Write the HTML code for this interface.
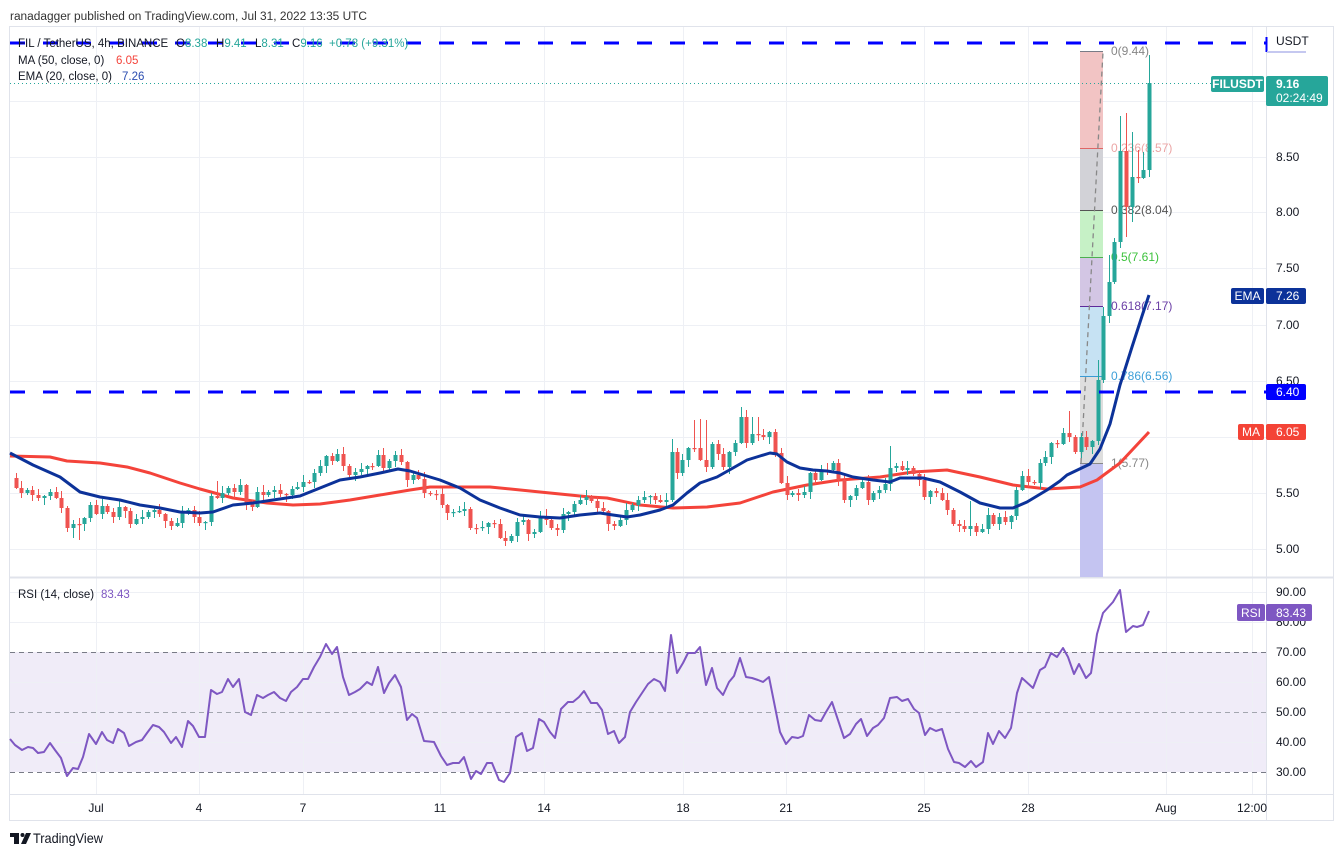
<!DOCTYPE html>
<html><head><meta charset="utf-8"><style>
html,body{margin:0;padding:0;background:#fff;overflow:hidden}
svg{display:block}
</style></head><body>
<svg width="1344" height="857" viewBox="0 0 1344 857" xmlns="http://www.w3.org/2000/svg" font-family="'Liberation Sans', sans-serif">
<rect width="1344" height="857" fill="#fff"/>
<text x="10" y="20" font-size="11.5" fill="#333" textLength="357" lengthAdjust="spacingAndGlyphs">ranadagger published on TradingView.com, Jul 31, 2022 13:35 UTC</text>

<!-- RSI band -->
<rect x="10" y="652" width="1256" height="120" fill="#f0ecf8"/>

<!-- grid -->
<g stroke="#eef0f5" stroke-width="1">
<line x1="10" y1="101.5" x2="1266" y2="101.5"/><line x1="10" y1="157.5" x2="1266" y2="157.5"/>
<line x1="10" y1="212.5" x2="1266" y2="212.5"/><line x1="10" y1="268.5" x2="1266" y2="268.5"/>
<line x1="10" y1="325.5" x2="1266" y2="325.5"/><line x1="10" y1="381.5" x2="1266" y2="381.5"/>
<line x1="10" y1="437.5" x2="1266" y2="437.5"/><line x1="10" y1="493.5" x2="1266" y2="493.5"/>
<line x1="10" y1="549.5" x2="1266" y2="549.5"/>
<line x1="10" y1="592.5" x2="1266" y2="592.5"/><line x1="10" y1="622.5" x2="1266" y2="622.5"/>
<line x1="10" y1="682.5" x2="1266" y2="682.5"/><line x1="10" y1="742.5" x2="1266" y2="742.5"/>
<line x1="96.5" y1="27" x2="96.5" y2="794"/><line x1="199.5" y1="27" x2="199.5" y2="794"/>
<line x1="303.5" y1="27" x2="303.5" y2="794"/><line x1="440.5" y1="27" x2="440.5" y2="794"/>
<line x1="544.5" y1="27" x2="544.5" y2="794"/><line x1="683.5" y1="27" x2="683.5" y2="794"/>
<line x1="786.5" y1="27" x2="786.5" y2="794"/><line x1="924.5" y1="27" x2="924.5" y2="794"/>
<line x1="1028.5" y1="27" x2="1028.5" y2="794"/><line x1="1166.5" y1="27" x2="1166.5" y2="794"/>
<line x1="1252.5" y1="27" x2="1252.5" y2="794"/>
</g>

<!-- RSI dashed levels -->
<g stroke-width="1" stroke-dasharray="5 4">
<line x1="10" y1="652.5" x2="1266" y2="652.5" stroke="#787b86"/>
<line x1="10" y1="712.5" x2="1266" y2="712.5" stroke="#a3a6af"/>
<line x1="10" y1="772.5" x2="1266" y2="772.5" stroke="#787b86"/>
</g>

<!-- frame -->
<rect x="9.5" y="26.5" width="1324" height="794" fill="none" stroke="#e0e3eb"/>
<line x1="1266.5" y1="27" x2="1266.5" y2="821" stroke="#e0e3eb"/>
<line x1="10" y1="577.5" x2="1334" y2="577.5" stroke="#e0e3eb" stroke-width="2"/>
<line x1="10" y1="794.5" x2="1334" y2="794.5" stroke="#e0e3eb"/>

<!-- Fib box -->
<rect x="1080" y="51" width="23" height="97" fill="#f2c4c4"/>
<rect x="1080" y="148" width="23" height="62" fill="#d2d2d7"/>
<rect x="1080" y="210" width="23" height="47" fill="#c6f1c6"/>
<rect x="1080" y="257" width="23" height="49" fill="#d3c6e4"/>
<rect x="1080" y="306" width="23" height="70" fill="#c6e2f3"/>
<rect x="1080" y="376" width="23" height="87" fill="#dedede"/>
<rect x="1080" y="463" width="23" height="114" fill="#c4c4f1"/>
<g stroke-width="1">
<line x1="1080" y1="51.5" x2="1103" y2="51.5" stroke="#787b86"/>
<line x1="1080" y1="148.5" x2="1103" y2="148.5" stroke="#e06666"/>
<line x1="1080" y1="210.5" x2="1103" y2="210.5" stroke="#555"/>
<line x1="1080" y1="257.5" x2="1103" y2="257.5" stroke="#4caf50"/>
<line x1="1080" y1="306.5" x2="1103" y2="306.5" stroke="#5e2a9a"/>
<line x1="1080" y1="376.5" x2="1103" y2="376.5" stroke="#3a9bd5"/>
<line x1="1080" y1="463.5" x2="1103" y2="463.5" stroke="#888"/>
</g>
<line x1="1081" y1="463" x2="1103" y2="52" stroke="#888" stroke-width="1.3" stroke-dasharray="5 4"/>
<g font-size="12">
<text x="1111" y="55" fill="#868686">0(9.44)</text>
<text x="1111" y="152" fill="#eba5a5">0.236(8.57)</text>
<text x="1111" y="214" fill="#555">0.382(8.04)</text>
<text x="1111" y="261" fill="#3cc23c">0.5(7.61)</text>
<text x="1111" y="310" fill="#6b3fa6">0.618(7.17)</text>
<text x="1111" y="380" fill="#3d9fd8">0.786(6.56)</text>
<text x="1111" y="467" fill="#888">1(5.77)</text>
</g>

<!-- current price dotted -->
<line x1="10" y1="83.5" x2="1211" y2="83.5" stroke="#26a69a" stroke-width="1" stroke-dasharray="1 3"/>

<!-- MA 50 -->
<polyline fill="none" stroke="#f4433a" stroke-width="3" stroke-linejoin="round" points="10,456 50,457 67,461 100,463 127,467 150,473 180,483 200,489 233,498 267,503 293,505 320,504 350,500 380,495 410,490 430,487 450,487 490,487 540,492 590,497 607,498 640,505 673,508 707,507 740,503 773,492 807,485 840,480 880,477 913,472 947,470 980,477 1013,485 1047,489 1080,487 1097,480 1120,463 1149,432"/>

<!-- candles -->
<g id="candles"></g>

<!-- EMA 20 -->
<polyline fill="none" stroke="#0c3299" stroke-width="3" stroke-linejoin="round" points="10,453 33,465 60,477 80,492 100,497 120,500 140,505 160,508 180,512 200,513 213,512 233,505 253,503 273,500 300,496 320,488 340,480 360,477 380,473 398,469 410,471 430,477 440,480 450,484 460,488 480,500 500,508 520,515 540,517 560,518 580,515 600,513 613,515 627,517 640,515 660,510 673,505 687,493 700,483 717,477 733,468 747,460 760,456 770,453 777,454 787,462 800,468 813,470 827,471 840,473 853,477 873,480 890,482 900,478 923,478 940,482 960,492 980,503 1000,508 1013,508 1027,502 1047,490 1060,481 1067,475 1090,464 1100,449 1110,424 1120,385 1132,347 1143,313 1149,295"/>

<!-- blue dashed levels -->
<g stroke="#0000ff" stroke-width="3" stroke-dasharray="15 18">
<line x1="10" y1="43" x2="1266" y2="43"/>
<line x1="10" y1="392" x2="1266" y2="392"/>
</g>
<line x1="1266.5" y1="37" x2="1266.5" y2="52" stroke="#0000ff" stroke-width="2"/>
<rect x="1267" y="51" width="39" height="2" fill="#c5c8f0"/>

<!-- RSI line -->
<polyline fill="none" stroke="#7e57c2" stroke-width="2" stroke-linejoin="round" points="10,739 15,745 22,750 28,747 33,748 38,753 44,752 50,743 55,750 61,758 67,776 73,768 78,769 83,757 89,734 96,744 102,732 107,740 113,743 118,729 124,733 129,746 136,742 142,740 147,733 153,725 159,727 164,732 171,743 176,737 182,747 188,721 193,726 199,737 205,737 211,690 217,694 222,692 228,679 233,687 239,679 245,712 251,715 257,695 263,698 268,695 274,692 280,698 286,701 291,692 297,687 303,679 308,679 314,667 320,657 326,644 332,654 337,647 343,677 349,695 355,692 360,689 367,682 372,685 378,667 384,693 389,683 395,675 401,687 407,720 412,714 417,718 424,741 434,742 441,756 447,765 453,763 459,763 464,757 471,779 476,771 481,774 487,763 492,763 499,780 504,782 510,773 516,737 522,733 527,751 533,748 539,719 544,722 550,732 555,738 561,709 568,702 573,702 579,697 584,691 591,703 597,703 602,710 608,734 614,731 619,743 625,737 630,712 636,702 642,693 648,684 654,679 660,682 665,691 671,635 677,673 683,663 688,653 695,653 700,647 706,685 712,668 717,688 723,695 729,682 734,676 740,658 746,677 752,678 758,680 763,682 769,677 780,732 786,744 792,737 798,738 803,736 809,715 815,720 821,721 826,712 832,702 844,738 850,734 856,724 861,719 867,736 873,728 878,725 884,718 890,698 897,697 902,701 908,699 914,709 919,713 925,735 930,728 936,731 942,729 948,749 954,762 959,763 965,767 971,761 976,767 983,762 988,733 993,744 999,731 1005,738 1011,728 1017,693 1022,678 1033,688 1040,670 1045,667 1051,653 1057,657 1063,648 1068,657 1074,674 1079,664 1086,678 1091,673 1097,634 1103,613 1113,602 1120,590 1126,632 1133,626 1137,627 1143,625 1149,611"/>

<!-- legends -->
<text y="47" font-size="11.5" fill="#131722"><tspan x="18">FIL / TetherUS, 4h, BINANCE</tspan><tspan x="176">O</tspan><tspan fill="#26a69a">8.38</tspan><tspan x="216">H</tspan><tspan fill="#26a69a">9.41</tspan><tspan x="255">L</tspan><tspan fill="#26a69a">8.31</tspan><tspan x="292">C</tspan><tspan fill="#26a69a">9.16</tspan><tspan x="329" fill="#26a69a">+0.78 (+9.31%)</tspan></text>
<text y="64" font-size="11.5" fill="#131722"><tspan x="18">MA (50, close, 0)</tspan><tspan x="116" fill="#f4433a">6.05</tspan></text>
<text y="80" font-size="11.5" fill="#131722"><tspan x="18">EMA (20, close, 0)</tspan><tspan x="122" fill="#2a4cb0">7.26</tspan></text>
<text y="598" font-size="11.5" fill="#131722"><tspan x="18">RSI (14, close)</tspan><tspan x="101" fill="#7e57c2">83.43</tspan></text>

<!-- price axis labels -->
<g font-size="12" fill="#131722">
<text x="1276" y="45">USDT</text>
<text x="1276" y="161">8.50</text>
<text x="1276" y="216">8.00</text>
<text x="1276" y="272">7.50</text>
<text x="1276" y="329">7.00</text>
<text x="1276" y="385">6.50</text>
<text x="1276" y="497">5.50</text>
<text x="1276" y="553">5.00</text>
<text x="1276" y="596">90.00</text>
<text x="1276" y="626">80.00</text>
<text x="1276" y="656">70.00</text>
<text x="1276" y="686">60.00</text>
<text x="1276" y="716">50.00</text>
<text x="1276" y="746">40.00</text>
<text x="1276" y="776">30.00</text>
</g>

<!-- axis tags -->
<rect x="1211" y="76" width="53" height="16" rx="2" fill="#26a69a"/>
<text x="1237.5" y="88" font-size="12" font-weight="bold" fill="#fff" text-anchor="middle">FILUSDT</text>
<rect x="1266" y="76" width="62" height="30" rx="2" fill="#26a69a"/>
<text x="1276" y="88" font-size="12" font-weight="bold" fill="#fff">9.16</text>
<text x="1276" y="102" font-size="12" fill="#fff">02:24:49</text>

<rect x="1231" y="288" width="33" height="16" rx="2" fill="#0c3299"/>
<text x="1247.5" y="300" font-size="12" fill="#fff" text-anchor="middle">EMA</text>
<rect x="1266" y="288" width="40" height="16" rx="2" fill="#0c3299"/>
<text x="1276" y="300" font-size="12" fill="#fff">7.26</text>

<rect x="1266" y="384" width="40" height="16" rx="2" fill="#0000ff"/>
<text x="1276" y="396" font-size="12" fill="#fff">6.40</text>

<rect x="1238" y="424" width="26" height="16" rx="2" fill="#f44336"/>
<text x="1251" y="436" font-size="12" fill="#fff" text-anchor="middle">MA</text>
<rect x="1266" y="424" width="40" height="16" rx="2" fill="#f44336"/>
<text x="1276" y="436" font-size="12" fill="#fff">6.05</text>

<rect x="1237" y="604" width="28" height="17" rx="2" fill="#7e57c2"/>
<text x="1251" y="617" font-size="12" fill="#fff" text-anchor="middle">RSI</text>
<rect x="1266" y="604" width="46" height="17" rx="2" fill="#7e57c2"/>
<text x="1276" y="617" font-size="12" fill="#fff">83.43</text>

<!-- time axis -->
<g font-size="12" fill="#131722" text-anchor="middle">
<text x="96" y="812">Jul</text>
<text x="199" y="812">4</text>
<text x="303" y="812">7</text>
<text x="440" y="812">11</text>
<text x="544" y="812">14</text>
<text x="683" y="812">18</text>
<text x="786" y="812">21</text>
<text x="924" y="812">25</text>
<text x="1028" y="812">28</text>
<text x="1166" y="812">Aug</text>
<text x="1252" y="812">12:00</text>
</g>

<!-- logo -->
<g fill="#131722">
<rect x="10" y="833" width="9" height="4"/>
<rect x="14" y="833" width="5" height="11"/>
<circle cx="22.5" cy="835" r="2"/>
<polygon points="26,833 31,833 26,844 21,844"/>
</g>
<text x="33" y="843" font-size="14" fill="#131722" textLength="70" lengthAdjust="spacingAndGlyphs">TradingView</text>
</svg>
<script>
(function(){
var D=[[16,488],[21,493],[27,490],[32,495],[38,498],[44,496],[50,492],[56,498],[61,508],[67,528],[73,524],[79,524],[84,518],[90,505],[96,514],[102,506],[107,512],[113,517],[119,507],[125,511],[130,524],[136,519],[142,517],[148,512],[154,510],[159,514],[165,521],[171,526],[177,523],[182,513],[188,510],[194,517],[199,523],[205,522],[211,496],[217,498],[222,493],[228,488],[234,492],[240,485],[246,503],[252,507],[257,492],[263,495],[268,492],[274,490],[280,494],[286,495],[292,489],[297,487],[303,482],[309,482],[314,473],[320,466],[326,456],[332,461],[337,454],[343,466],[349,475],[355,472],[361,469],[367,466],[372,466],[378,455],[383,468],[389,461],[395,455],[401,462],[407,480],[413,475],[418,479],[424,493],[430,494],[436,494],[442,505],[447,513],[453,512],[459,511],[464,509],[470,528],[476,528],[482,527],[488,523],[494,524],[500,538],[505,541],[511,536],[517,522],[523,520],[528,534],[534,532],[540,516],[546,520],[551,528],[557,530],[563,514],[568,512],[574,504],[580,500],[586,497],[591,501],[597,508],[603,511],[608,524],[614,526],[620,520],[626,510],[632,505],[638,500],[644,497],[650,496],[655,500],[660,502],[666,500],[672,452],[677,473],[682,460],[688,448],[694,448],[700,460],[706,467],[712,444],[718,454],[723,467],[729,452],[735,443],[741,417],[746,443],[752,434],[758,435],[763,437],[769,432],[775,453],[781,483],[787,495],[792,493],[798,495],[804,492],[810,473],[815,480],[821,470],[827,470],[833,463],[838,480],[844,500],[850,496],[856,488],[862,482],[868,500],[873,493],[879,490],[885,484],[890,468],[896,466],[902,470],[907,468],[913,474],[919,480],[924,497],[930,491],[936,493],[942,500],[947,510],[953,524],[959,526],[964,529],[970,526],[976,532],[982,529],[988,515],[993,524],[999,517],[1005,522],[1011,516],[1016,490],[1022,476],[1028,482],[1034,483],[1040,463],[1045,457],[1051,443],[1057,444],[1063,433],[1069,437],[1075,452],[1081,437],[1086,447],[1092,441],[1098,380],[1103,316],[1109,282],[1114,242],[1120,151],[1126,207],[1132,177],[1138,178],[1143,170],[1149,83]];
var HI={217:481,672:439,694:420,700:419,706:420,741:407,752:417,758:417,890:446,970:501,1069:411,1098:360,1103:307,1109:255,1114:238,1120:116,1126:113,1132:132,1138:150,1143:152,1149:55};
var LO={67:532,73:538,79:540,246:510,1098:445,1103:383,1109:323,1126:237,1132:222,1138:183,1149:177};
var prev=478,s='';
for(var i=0;i<D.length;i++){
 var x=D[i][0],c=D[i][1],o=prev;prev=c;
 var up=c<o,col=up?'#26a69a':'#ef5350';
 var top=Math.min(o,c),bot=Math.max(o,c);
 var r1=1+((i*37+11)%7),r2=1+((i*53+7)%7);
 var hi=(HI[x]!==undefined)?HI[x]:top-r1;
 var lo=(LO[x]!==undefined)?LO[x]:bot+r2;
 s+='<line x1="'+(x+0.5)+'" x2="'+(x+0.5)+'" y1="'+hi+'" y2="'+lo+'" stroke="'+col+'" stroke-width="1"/>';
 s+='<rect x="'+(x-1.5)+'" y="'+top+'" width="4" height="'+Math.max(bot-top,1.2)+'" fill="'+col+'"/>';
}
document.getElementById('candles').innerHTML=s;
})();
</script>
</body></html>
